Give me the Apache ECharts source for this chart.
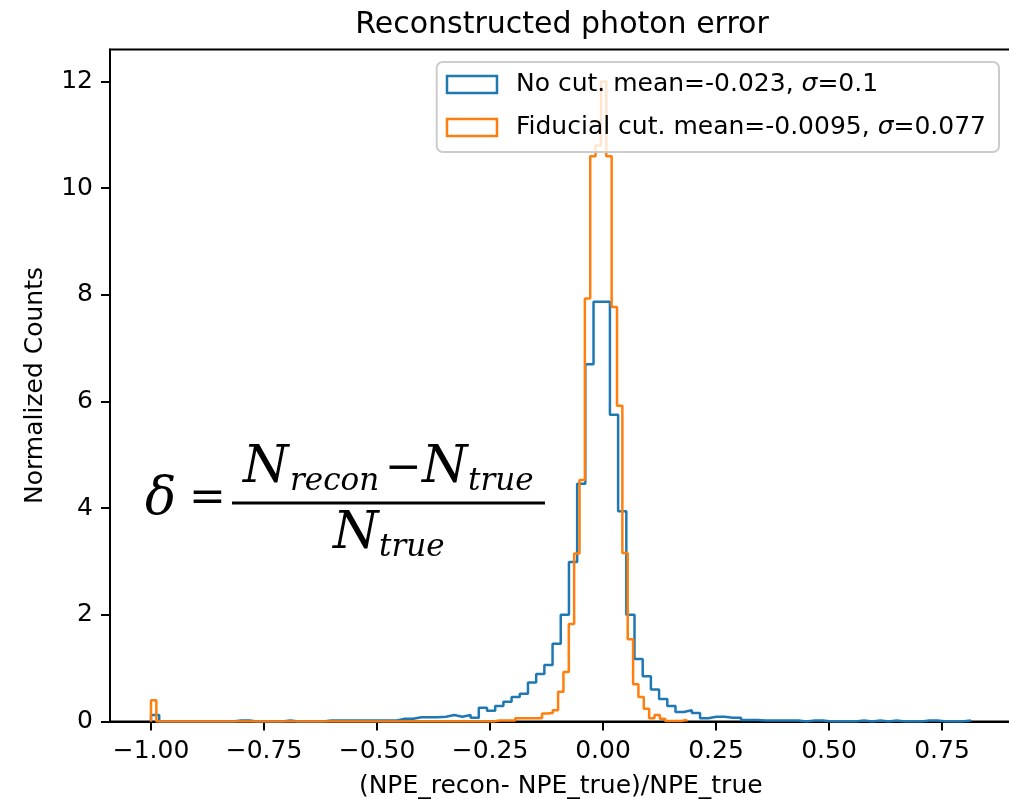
<!DOCTYPE html>
<html>
<head>
<meta charset="utf-8">
<script src="https://cdn.jsdelivr.net/npm/echarts@6/dist/echarts.min.js"></script>
<style>html,body{margin:0;padding:0;background:#fff}#c{width:1009px;height:799px}</style>
</head>
<body>
<div id="c"></div>
<script>
// ---- data ----
const titleText = 'Reconstructed photon error';
const xLabel = '(NPE_recon- NPE_true)/NPE_true';
const yLabel = 'Normalized Counts';
const seriesNames = ['No cut. mean=-0.023, σ=0.1', 'Fiducial cut. mean=-0.0095, σ=0.077'];
const seriesColors = ['#1f77b4', '#ff7f0e'];
// histogram ranges (min, max) with 100 bins each
const noCutRange = [-1.0, 0.813];
const fidRange = [-1.0, 0.185];
// normalized counts per bin (100 bins)
const noCutCounts = [
  0.12, 0, 0, 0, 0, 0, 0, 0, 0, 0,
  0.02, 0.02, 0, 0, 0, 0, 0.02, 0, 0, 0,
  0, 0.02, 0.02, 0.02, 0.02, 0.02, 0.02, 0.02, 0.02, 0.02,
  0.05, 0.05, 0.08, 0.08, 0.08, 0.09, 0.12, 0.09, 0.12, 0.07,
  0.26, 0.20, 0.29, 0.37, 0.46, 0.52, 0.73, 0.89, 1.06, 1.46,
  2.0, 2.99, 4.46, 6.70, 7.87, 7.87, 5.75, 3.94, 2.0, 1.17,
  0.85, 0.60, 0.42, 0.29, 0.18, 0.21, 0.16, 0.06, 0.09, 0.09,
  0.07, 0.07, 0.03, 0.03, 0.02, 0.02, 0.02, 0.02, 0.02, 0,
  0.02, 0.02, 0, 0, 0, 0, 0.02, 0, 0.02, 0,
  0.02, 0, 0, 0, 0.02, 0.02, 0, 0, 0, 0.02
];
const fidCounts = [
  0.40, 0, 0, 0, 0, 0, 0, 0, 0, 0,
  0, 0, 0, 0, 0, 0, 0, 0, 0, 0,
  0, 0, 0, 0, 0, 0, 0, 0, 0, 0,
  0, 0, 0, 0, 0, 0, 0, 0, 0, 0,
  0, 0, 0, 0, 0, 0, 0, 0, 0, 0,
  0, 0, 0, 0, 0, 0, 0, 0, 0, 0,
  0, 0, 0, 0, 0.02, 0.02, 0.02, 0.02, 0.06, 0.06,
  0.06, 0.06, 0.06, 0.15, 0.16, 0.21, 0.56, 0.93, 1.83, 3.15,
  4.53, 7.93, 10.6, 10.8, 12.0, 10.6, 7.77, 5.92, 3.16, 1.54,
  0.70, 0.46, 0.24, 0.06, 0.12, 0.05, 0.01, 0.01, 0.01, 0.03
];
const xTicks = [-1.0, -0.75, -0.5, -0.25, 0, 0.25, 0.5, 0.75];
const yTicks = [0, 2, 4, 6, 8, 10, 12];
const xLimits = [-1.0907, 0.9037];
const yLimits = [0, 12.6];

// build step outline (matplotlib histtype='step')
function stepPath(range, counts) {
  const n = counts.length;
  const w = (range[1] - range[0]) / n;
  const pts = [[range[0], 0]];
  for (let i = 0; i < n; i++) {
    const a = range[0] + i * w, b = range[0] + (i + 1) * w;
    pts.push([a, counts[i]]);
    pts.push([b, counts[i]]);
  }
  pts.push([range[1], 0]);
  return pts;
}

const chart = echarts.init(document.getElementById('c'), null, {renderer: 'canvas'});
const FONT = 'DejaVu Sans';
const fmtX = v => (v < 0 ? '\u2212' : '') + Math.abs(v).toFixed(2);

const serifIt = (s) => 'italic ' + s + 'px "DejaVu Serif"';
const option = {
  animation: false,
  backgroundColor: '#fff',
  title: {
    text: titleText, left: 557, top: 5, textAlign: 'center',
    textStyle: {fontFamily: FONT, fontSize: 30, fontWeight: 'normal', color: '#000'}
  },
  grid: {left: 110, right: -2.5, top: 49.5, bottom: 77.5, show: true, borderColor: '#000', borderWidth: 2, backgroundColor: 'transparent', outerBoundsMode: 'none'},
  legend: {
    orient: 'vertical', right: 10, top: 62,
    itemWidth: 50, itemHeight: 17, itemGap: 18,
    padding: [10, 13, 12, 9],
    backgroundColor: 'rgba(255,255,255,0.8)', borderColor: '#cccccc', borderWidth: 2, borderRadius: 6,
    data: seriesNames.map((n, i) => ({name: n, icon: 'rect', itemStyle: {color: 'rgba(0,0,0,0)', borderColor: seriesColors[i], borderWidth: 2.5}})),
    formatter: name => name.replace('σ', '{i|σ}'),
    textStyle: {fontFamily: FONT, fontSize: 25, color: '#000', padding: [0, 0, 0, 14],
      rich: {i: {fontFamily: FONT, fontStyle: 'italic', fontSize: 25, color: '#000'}}}
  },
  xAxis: {
    type: 'value', min: xLimits[0], max: xLimits[1],
    name: xLabel, nameLocation: 'middle', nameGap: 52,
    nameTextStyle: {fontFamily: FONT, fontSize: 25, color: '#000'},
    axisLine: {show: true, onZero: false, lineStyle: {color: '#000', width: 2}},
    axisTick: {show: true, customValues: xTicks, length: 9, lineStyle: {color: '#000', width: 2}},
    axisLabel: {customValues: xTicks, formatter: fmtX, margin: 17, fontFamily: FONT, fontSize: 25, color: '#000'},
    splitLine: {show: false}
  },
  yAxis: {
    type: 'value', min: yLimits[0], max: yLimits[1],
    name: yLabel, nameLocation: 'middle', nameGap: 62, nameRotate: 90,
    nameTextStyle: {fontFamily: FONT, fontSize: 25, color: '#000'},
    axisLine: {show: true, onZero: false, lineStyle: {color: '#000', width: 2}},
    axisTick: {show: true, customValues: yTicks, length: 9, lineStyle: {color: '#000', width: 2}},
    axisLabel: {customValues: yTicks, formatter: v => String(v), margin: 17, fontFamily: FONT, fontSize: 25, color: '#000'},
    splitLine: {show: false}
  },
  series: [
    {name: seriesNames[0], type: 'line', data: stepPath(noCutRange, noCutCounts), showSymbol: false, symbol: 'none',
     lineStyle: {color: seriesColors[0], width: 2.5}, itemStyle: {color: seriesColors[0]}, z: 2},
    {name: seriesNames[1], type: 'line', data: stepPath(fidRange, fidCounts), showSymbol: false, symbol: 'none',
     lineStyle: {color: seriesColors[1], width: 2.5}, itemStyle: {color: seriesColors[1]}, z: 3}
  ],
  graphic: [
    {type: 'text', z: 10, style: {text: 'δ', x: 145, y: 500, font: serifIt(52), fill: '#000', verticalAlign: 'middle'}},
    {type: 'text', z: 10, style: {text: '=', x: 189, y: 500, font: '44px "DejaVu Serif"', fill: '#000', verticalAlign: 'middle'}},
    {type: 'text', z: 10, style: {text: 'N', x: 243, y: 468, font: serifIt(52), fill: '#000', verticalAlign: 'middle'}},
    {type: 'text', z: 10, style: {text: 'recon', x: 290, y: 482, font: serifIt(31), fill: '#000', verticalAlign: 'middle'}},
    {type: 'text', z: 10, style: {text: '\u2212', x: 385, y: 470, font: '44px "DejaVu Serif"', fill: '#000', verticalAlign: 'middle'}},
    {type: 'text', z: 10, style: {text: 'N', x: 422, y: 468, font: serifIt(52), fill: '#000', verticalAlign: 'middle'}},
    {type: 'text', z: 10, style: {text: 'true', x: 468, y: 482, font: serifIt(31), fill: '#000', verticalAlign: 'middle'}},
    {type: 'line', z: 10, shape: {x1: 232, y1: 503, x2: 545, y2: 503}, style: {stroke: '#000', lineWidth: 3}},
    {type: 'text', z: 10, style: {text: 'N', x: 333, y: 534, font: serifIt(52), fill: '#000', verticalAlign: 'middle'}},
    {type: 'text', z: 10, style: {text: 'true', x: 379, y: 548, font: serifIt(31), fill: '#000', verticalAlign: 'middle'}}
  ]
};
chart.setOption(option);
</script>
</body>
</html>
